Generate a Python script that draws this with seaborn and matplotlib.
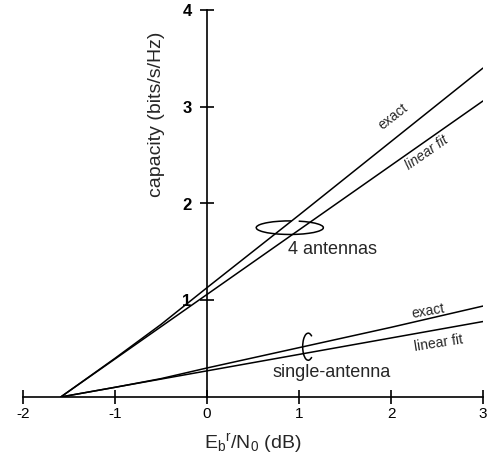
import numpy as np
import pandas as pd
import matplotlib
matplotlib.use("Agg")
import matplotlib.pyplot as plt
from matplotlib.patches import Arc
import seaborn as sns

# ---- data ----
ebn0_four_exact = [-1.59, -1.0, -0.5, 0.0, 1.0, 2.0, 3.0]
cap_four_exact = [0.0, 0.40, 0.75, 1.13, 1.88, 2.64, 3.40]
ebn0_four_fit = [-1.59, 3.0]
cap_four_fit = [0.0, 3.06]
ebn0_single_exact = [-1.59, -1.0, -0.5, 0.0, 1.0, 2.0, 3.0]
cap_single_exact = [0.0, 0.10, 0.19, 0.30, 0.51, 0.72, 0.94]
ebn0_single_fit = [-1.59, 3.0]
cap_single_fit = [0.0, 0.78]
x_ticks = [-2, -1, 0, 1, 2, 3]
y_ticks = [1, 2, 3, 4]

frames = []
for name, xs, ys in [("4 exact", ebn0_four_exact, cap_four_exact),
                     ("4 fit", ebn0_four_fit, cap_four_fit),
                     ("1 exact", ebn0_single_exact, cap_single_exact),
                     ("1 fit", ebn0_single_fit, cap_single_fit)]:
    frames.append(pd.DataFrame({"x": xs, "y": ys, "series": name}))
df = pd.concat(frames, ignore_index=True)

sns.set_style("white")
plt.rcParams["font.family"] = ["Liberation Sans", "DejaVu Sans"]
plt.rcParams["mathtext.fontset"] = "custom"
plt.rcParams["mathtext.rm"] = "Liberation Sans"
plt.rcParams["mathtext.it"] = "Liberation Sans"

fig = plt.figure(figsize=(4.9, 4.69), dpi=100)
ax = fig.add_axes([23 / 490, 1 - 397 / 469, 460 / 490, 387 / 469])

sns.lineplot(data=df, x="x", y="y", units="series", estimator=None,
             color="black", linewidth=1.1, ax=ax, sort=False)

ax.set_xlim(-2, 3)
ax.set_ylim(0, 4)
ax.spines["left"].set_position(("data", 0))
ax.spines["bottom"].set_position(("data", 0))
for s in ["top", "right"]:
    ax.spines[s].set_visible(False)
for s in ["left", "bottom"]:
    ax.spines[s].set_linewidth(1.2)
    ax.spines[s].set_color("black")

ax.set_xticks(x_ticks)
ax.set_yticks(y_ticks)
ax.set_xticklabels([str(t) for t in x_ticks], fontsize=11)
ax.set_yticklabels([str(t) for t in y_ticks], fontsize=12, fontweight="bold")
ax.tick_params(axis="both", which="major", bottom=True, left=True,
               direction="inout", length=10, width=1.2,
               color="black", labelcolor="black")
ax.tick_params(axis="x", pad=2)
ax.tick_params(axis="y", pad=6)

ax.set_xlabel(r"E$_\mathregular{b}$$^\mathregular{r}$/N$_\mathregular{0}$ (dB)",
              fontsize=14, labelpad=8)
ax.set_ylabel("")
ax.text(-0.55, 2.92, "capacity (bits/s/Hz)", rotation=90, fontsize=14,
        ha="center", va="center")

# annotations
ax.text(2.02, 2.90, "exact", rotation=38, fontsize=10, ha="center", va="center",
        rotation_mode="anchor")
ax.text(2.39, 2.52, "linear fit", rotation=35, fontsize=10, ha="center",
        va="center", style="italic", rotation_mode="anchor")
ax.text(1.36, 1.52, "4 antennas", fontsize=13, ha="center", va="center")
ax.add_patch(Arc((0.90, 1.75), 0.73, 0.14, theta1=75, theta2=395,
                 color="black", linewidth=1.1))

ax.text(2.40, 0.89, "exact", rotation=10, fontsize=10, ha="center", va="center",
        rotation_mode="anchor")
ax.text(2.52, 0.56, "linear fit", rotation=9, fontsize=10, ha="center",
        va="center", rotation_mode="anchor")
ax.text(1.35, 0.25, "single-antenna", fontsize=13, ha="center", va="center")
ax.add_patch(Arc((1.10, 0.52), 0.12, 0.28, theta1=70, theta2=290,
                 color="black", linewidth=1.1))

fig.savefig("out.png", dpi=100)
